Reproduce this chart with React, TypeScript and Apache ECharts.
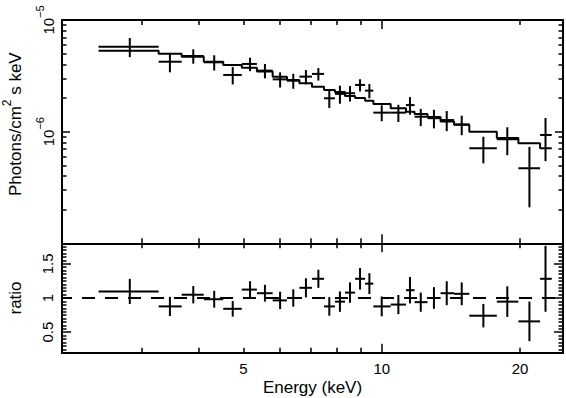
import React, { useEffect, useRef } from 'react';
import * as echarts from 'echarts';

// ---- data (energies in keV, flux in 1e-6 photons/cm^2/s/keV) ----
const binEdges = [2.42, 3.27, 3.67, 4.1, 4.52, 4.96, 5.35, 5.79, 6.22, 6.62, 7.05, 7.49, 7.91, 8.32, 8.75, 9.2, 9.59, 10.46, 11.29, 11.79, 12.58, 13.43, 14.37, 15.51, 17.8, 19.83, 22.11, 23.44];
const binCenters = [2.83, 3.46, 3.89, 4.32, 4.74, 5.17, 5.57, 6.01, 6.42, 6.84, 7.28, 7.69, 8.11, 8.53, 8.97, 9.4, 10.0, 10.87, 11.52, 12.16, 12.99, 13.85, 14.93, 16.64, 18.76, 20.96, 22.72];
const flux = [5.77, 4.23, 4.76, 4.18, 3.22, 4.04, 3.52, 2.94, 2.86, 3.11, 3.29, 1.99, 2.18, 2.21, 2.62, 2.33, 1.48, 1.48, 1.73, 1.36, 1.32, 1.27, 1.16, 0.71, 0.855, 0.47, 0.934];
const fluxErr = [1.12, 0.83, 0.7, 0.65, 0.57, 0.56, 0.52, 0.46, 0.44, 0.45, 0.42, 0.36, 0.4, 0.35, 0.33, 0.34, 0.24, 0.26, 0.31, 0.24, 0.25, 0.26, 0.23, 0.19, 0.24, 0.26, 0.39];
const model = [5.31, 4.99, 4.69, 4.23, 3.95, 3.74, 3.45, 3.11, 2.9, 2.71, 2.53, 2.36, 2.27, 2.09, 2.0, 1.89, 1.77, 1.62, 1.51, 1.44, 1.35, 1.23, 1.15, 1.0, 0.878, 0.787, 0.71];
const ratio = [1.096, 0.877, 1.048, 0.982, 0.842, 1.123, 1.07, 0.965, 1.0, 1.149, 1.281, 0.877, 0.947, 1.079, 1.281, 1.21, 0.877, 0.904, 1.114, 0.939, 1.0, 1.07, 1.061, 0.741, 0.947, 0.658, 1.281];
const ratioErr = [0.184, 0.14, 0.127, 0.123, 0.114, 0.123, 0.123, 0.127, 0.127, 0.14, 0.132, 0.136, 0.149, 0.149, 0.158, 0.153, 0.145, 0.14, 0.193, 0.14, 0.158, 0.175, 0.167, 0.171, 0.224, 0.289, 0.482];

// ---- axis ranges & ticks ----
const energyRange = [2.015, 24.8];
const fluxRange = [0.1, 10];
const ratioRange = [0.2, 1.8];
const xMajorTicks = [10];
const xMinorTicks = [3, 4, 5, 6, 7, 8, 9, 20];
const xTickLabels = [5, 10, 20];
const yMajorTicks = [0.1, 1, 10];
const yMinorTicks = [0.2, 0.3, 0.4, 0.5, 0.6, 0.7, 0.8, 0.9, 2, 3, 4, 5, 6, 7, 8, 9];
const yTickLabels = [1, 10];
const ratioMajorTicks = [0.5, 1, 1.5];
const ratioTickLabels = [0.5, 1, 1.5];
const ratioMinorStep = 0.05;

const FONT = '"Liberation Sans", Arial, Helvetica, sans-serif';
const L = (v: number) => Math.log10(v);
const BLACK = '#000';

const xMin = L(energyRange[0]);
const xMax = L(energyRange[1]);
const yMin = L(fluxRange[0]);
const yMax = L(fluxRange[1]);

const ratioMinorTicks: number[] = [];
for (let k = 0; ; k++) {
  const v = Math.round((ratioRange[0] + k * ratioMinorStep) * 1000) / 1000;
  if (v > ratioRange[1] + 1e-9) break;
  if (!ratioMajorTicks.some((m) => Math.abs(m - v) < 1e-6)) ratioMinorTicks.push(v);
}

function xAx(grid: number, pos: string, ticks: number[], len: number, line: boolean, labels?: any, name?: any) {
  return {
    type: 'value',
    gridIndex: grid,
    position: pos,
    min: xMin,
    max: xMax,
    splitLine: { show: false },
    axisLine: { show: line, onZero: false, lineStyle: { color: BLACK, width: 2 } },
    axisTick: { show: true, inside: true, length: len, customValues: ticks.map(L), lineStyle: { color: BLACK, width: 1.5 } },
    axisLabel: labels || { show: false },
    ...(name || {}),
  };
}

function yAx(grid: number, pos: string, min: number, max: number, ticks: number[], len: number, line: boolean, labels?: any, name?: any) {
  return {
    type: 'value',
    gridIndex: grid,
    position: pos,
    min,
    max,
    splitLine: { show: false },
    axisLine: { show: line, onZero: false, lineStyle: { color: BLACK, width: 2 } },
    axisTick: { show: true, inside: true, length: len, customValues: ticks, lineStyle: { color: BLACK, width: 1.5 } },
    axisLabel: labels || { show: false },
    ...(name || {}),
  };
}

const crossItem = (params: any, api: any) => {
  const a = api.coord([api.value(0), api.value(3)]);
  const b = api.coord([api.value(1), api.value(3)]);
  const t = api.coord([api.value(2), api.value(5)]);
  const u = api.coord([api.value(2), api.value(4)]);
  const style = { stroke: BLACK, lineWidth: 2, fill: 'none' };
  return {
    type: 'group',
    children: [
      { type: 'line', shape: { x1: a[0], y1: a[1], x2: b[0], y2: b[1] }, style },
      { type: 'line', shape: { x1: t[0], y1: t[1], x2: u[0], y2: u[1] }, style },
    ],
  };
};

export default function App() {
  const ref = useRef<HTMLDivElement>(null);
  useEffect(() => {
    const chart = echarts.init(ref.current!, null, { renderer: 'svg' });

    const topCrosses = flux.map((f, i) => [
      L(binEdges[i]), L(binEdges[i + 1]), L(binCenters[i]), L(f), L(f - fluxErr[i]), L(f + fluxErr[i]),
    ]);
    const ratioCrosses = ratio.map((r, i) => [
      L(binEdges[i]), L(binEdges[i + 1]), L(binCenters[i]), r, r - ratioErr[i], r + ratioErr[i],
    ]);
    const modelSteps = model.map((m, i) => [L(binEdges[i]), L(m)]);
    modelSteps.push([L(binEdges[binEdges.length - 1]), L(model[model.length - 1])]);

    const xLabelCfg = {
      show: true,
      customValues: xTickLabels.map(L),
      margin: 8,
      fontSize: 15,
      lineHeight: 15,
      color: BLACK,
      fontFamily: FONT,
      formatter: (v: number) => String(Math.round(Math.pow(10, v))),
    };
    const yTopLabelCfg = {
      show: true,
      customValues: yTickLabels.map(L),
      rotate: 90,
      margin: 0,
      formatter: (v: number) => `{b|10}{s|\u2212${6 - Math.round(v)}}`,
      rich: {
        b: { fontSize: 15, lineHeight: 28, fontFamily: FONT, color: BLACK },
        s: { fontSize: 11, lineHeight: 11, verticalAlign: 'top', fontFamily: FONT, color: BLACK },
      },
    };
    const ratioLabelCfg = {
      show: true,
      customValues: ratioTickLabels,
      rotate: 90,
      margin: 7,
      fontSize: 15,
      lineHeight: 15,
      color: BLACK,
      fontFamily: FONT,
      formatter: (v: number) => String(v),
    };

    const option: any = {
      animation: false,
      backgroundColor: '#fff',
      grid: [
        { left: 62, right: 3, top: 20, height: 223.3, containLabel: false, outerBoundsMode: 'none' },
        { left: 62, right: 3, top: 243.3, height: 109.4, containLabel: false, outerBoundsMode: 'none' },
      ],
      xAxis: [
        xAx(0, 'bottom', xMajorTicks, 9, true),
        xAx(0, 'bottom', xMinorTicks, 5, false),
        xAx(0, 'top', xMajorTicks, 9, true),
        xAx(0, 'top', xMinorTicks, 5, false),
        xAx(1, 'bottom', xMajorTicks, 9, true, xLabelCfg, {
          name: 'Energy (keV)',
          nameLocation: 'middle',
          nameGap: 26,
          nameMoveOverlap: false,
          nameTextStyle: { fontSize: 17, lineHeight: 17, color: BLACK, fontFamily: FONT },
        }),
        xAx(1, 'bottom', xMinorTicks, 5, false),
        xAx(1, 'top', xMajorTicks, 9, true),
        xAx(1, 'top', xMinorTicks, 5, false),
      ],
      yAxis: [
        yAx(0, 'left', yMin, yMax, yMajorTicks.map(L), 8, true, yTopLabelCfg, {
          name: '{a|Photons/cm}{s|2}{a| s keV}',
          nameLocation: 'middle',
          nameGap: 32,
          nameMoveOverlap: false,
          nameTextStyle: {
            padding: [0, 0, 0, 15],
            rich: {
              a: { fontSize: 17, lineHeight: 29, fontFamily: FONT, color: BLACK },
              s: { fontSize: 12, lineHeight: 12, verticalAlign: 'top', fontFamily: FONT, color: BLACK },
            },
          },
        }),
        yAx(0, 'left', yMin, yMax, yMinorTicks.map(L), 4.5, false),
        yAx(0, 'right', yMin, yMax, yMajorTicks.map(L), 8, true),
        yAx(0, 'right', yMin, yMax, yMinorTicks.map(L), 4.5, false),
        yAx(1, 'left', ratioRange[0], ratioRange[1], ratioMajorTicks, 9, true, ratioLabelCfg, {
          name: 'ratio',
          nameLocation: 'middle',
          nameGap: 38,
          nameMoveOverlap: false,
          nameTextStyle: { fontSize: 17, lineHeight: 17, color: BLACK, fontFamily: FONT },
        }),
        yAx(1, 'left', ratioRange[0], ratioRange[1], ratioMinorTicks, 4.5, false),
        yAx(1, 'right', ratioRange[0], ratioRange[1], ratioMajorTicks, 9, true),
        yAx(1, 'right', ratioRange[0], ratioRange[1], ratioMinorTicks, 4.5, false),
      ],
      series: [
        {
          type: 'line',
          xAxisIndex: 0,
          yAxisIndex: 0,
          data: modelSteps,
          step: 'end',
          symbol: 'none',
          showSymbol: false,
          lineStyle: { color: BLACK, width: 2 },
          silent: true,
        },
        {
          type: 'custom',
          xAxisIndex: 0,
          yAxisIndex: 0,
          renderItem: crossItem,
          data: topCrosses,
          encode: { x: [0, 1, 2], y: [3, 4, 5] },
          silent: true,
        },
        {
          type: 'line',
          xAxisIndex: 4,
          yAxisIndex: 4,
          data: [[xMin, 1], [xMax, 1]],
          symbol: 'none',
          showSymbol: false,
          lineStyle: { color: BLACK, width: 2, type: [13, 10], dashOffset: 3 },
          silent: true,
        },
        {
          type: 'custom',
          xAxisIndex: 4,
          yAxisIndex: 4,
          renderItem: crossItem,
          data: ratioCrosses,
          encode: { x: [0, 1, 2], y: [3, 4, 5] },
          silent: true,
        },
      ],
    };
    chart.setOption(option);
    return () => chart.dispose();
  }, []);
  return <div ref={ref} style={{ position: 'fixed', left: 0, top: 0, width: 566, height: 398 }} />;
}
